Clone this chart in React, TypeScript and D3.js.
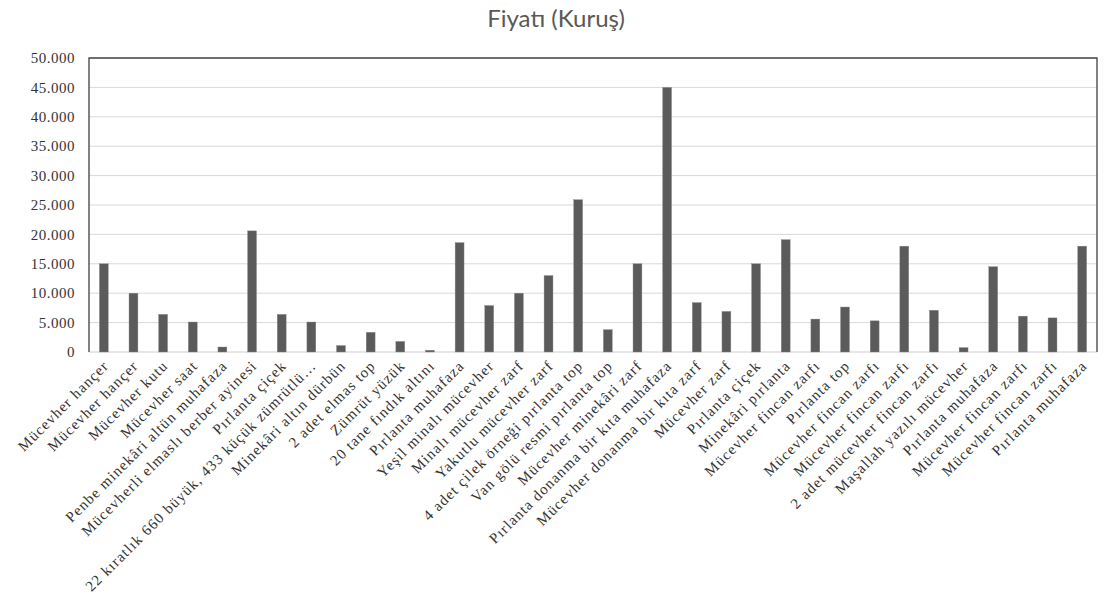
import React, { useEffect, useRef } from "react";
import * as d3 from "d3";

const categories: string[] = [
  "Mücevher hançer",
  "Mücevher hançer",
  "Mücevher kutu",
  "Mücevher saat",
  "Penbe minekâri altün muhafaza",
  "Mücevherli elmaslı berber ayinesi",
  "Pırlanta çiçek",
  "22 kıratlık 660 büyük, 433 küçük zümrütlü…",
  "Minekâri altın dürbün",
  "2 adet elmas top",
  "Zümrüt yüzük",
  "20 tane fındık altını",
  "Pırlanta muhafaza",
  "Yeşil minalı mücevher",
  "Minalı mücevher zarf",
  "Yakutlu mücevher zarf",
  "4 adet çilek örneği pırlanta top",
  "Van gölü resmi pırlanta top",
  "Mücevher minekâri zarf",
  "Pırlanta donanma bir kıta muhafaza",
  "Mücevher donanma bir kıta zarf",
  "Mücevher zarf",
  "Pırlanta çiçek",
  "Minekâri pırlanta",
  "Mücevher fincan zarfı",
  "Pırlanta top",
  "Mücevher fincan zarfı",
  "Mücevher fincan zarfı",
  "2 adet mücevher fincan zarfı",
  "Maşallah  yazılı mücevher",
  "Pırlanta muhafaza",
  "Mücevher fincan zarfı",
  "Mücevher fincan zarfı",
  "Pırlanta muhafaza",
];

const prices: number[] = [
  15000, 10000, 6400, 5100, 850, 20600, 6400, 5100, 1100, 3350, 1800, 300,
  18600, 7900, 10000, 13000, 25900, 3800, 15000, 45000, 8400, 6900, 15000,
  19100, 5600, 7650, 5300, 18000, 7100, 750, 14500, 6100, 5800, 18000,
];

const yTicks: number[] = [0, 5000, 10000, 15000, 20000, 25000, 30000, 35000, 40000, 45000, 50000];

const title = "Fiyatı (Kuruş)";

const W = 1105;
const H = 608;
const margin = { left: 89, right: 8, top: 58, bottom: 256 };

export default function App() {
  const ref = useRef<SVGSVGElement | null>(null);

  useEffect(() => {
    const svg = d3.select(ref.current);
    svg.selectAll("*").remove();

    const x = d3
      .scaleBand<number>()
      .domain(d3.range(categories.length))
      .range([margin.left, W - margin.right])
      .paddingInner(0.7)
      .paddingOuter(0.35);

    const y = d3
      .scaleLinear()
      .domain([0, 50000])
      .range([H - margin.bottom, margin.top]);

    svg
      .append("rect")
      .attr("width", W)
      .attr("height", H)
      .attr("fill", "#ffffff");

    // title
    svg
      .append("text")
      .attr("x", 556)
      .attr("y", 27)
      .attr("text-anchor", "middle")
      .attr("font-family", "Lato, 'Open Sans', sans-serif")
      .attr("font-size", 24)
      .attr("fill", "#595959")
      .text(title);

    // gridlines
    svg
      .append("g")
      .selectAll("line")
      .data(yTicks.filter((t) => t > 0 && t < 50000))
      .join("line")
      .attr("x1", margin.left)
      .attr("x2", W - margin.right)
      .attr("y1", (d) => y(d))
      .attr("y2", (d) => y(d))
      .attr("stroke", "#d9d9d9")
      .attr("stroke-width", 1);

    // bottom axis line
    svg
      .append("line")
      .attr("x1", margin.left)
      .attr("x2", W - margin.right)
      .attr("y1", y(0))
      .attr("y2", y(0))
      .attr("stroke", "#d0d0d0")
      .attr("stroke-width", 1.2);

    // frame: top, left, right
    svg
      .append("path")
      .attr(
        "d",
        `M${margin.left},${y(0)}V${y(50000)}H${W - margin.right}V${y(0)}`
      )
      .attr("fill", "none")
      .attr("stroke", "#404040")
      .attr("stroke-width", 1.3);

    // bars
    svg
      .append("g")
      .selectAll("rect")
      .data(prices)
      .join("rect")
      .attr("x", (_, i) => x(i) as number)
      .attr("width", x.bandwidth())
      .attr("y", (d) => y(d))
      .attr("height", (d) => y(0) - y(d))
      .attr("fill", "#5b5b5b")
      .attr("stroke", "#8a8a8a")
      .attr("stroke-width", 0.4);

    // y tick labels
    svg
      .append("g")
      .selectAll("text")
      .data(yTicks)
      .join("text")
      .attr("x", 75)
      .attr("y", (d) => y(d))
      .attr("dy", "0.35em")
      .attr("text-anchor", "end")
      .attr("font-family", "'Liberation Serif', 'Times New Roman', serif")
      .attr("font-size", 15)
      .attr("letter-spacing", 0.5)
      .attr("fill", "#333333")
      .text((d) => d3.format(",")(d).replace(/,/g, "."));

    // x labels
    svg
      .append("g")
      .selectAll("text")
      .data(categories)
      .join("text")
      .attr(
        "transform",
        (_, i) =>
          `translate(${(x(i) as number) + x.bandwidth() / 2 + 2},${y(0) + 11}) rotate(-45)`
      )
      .attr("text-anchor", "end")
      .attr("dy", "0.35em")
      .attr("font-family", "'Liberation Serif', 'Times New Roman', serif")
      .attr("font-size", 15)
      .attr("letter-spacing", 1.1)
      .attr("fill", "#333333")
      .text((d) => d);
  }, []);

  return (
    <div style={{ position: "absolute", left: 0, top: 0 }}>
      <svg ref={ref} width={W} height={H} />
    </div>
  );
}
